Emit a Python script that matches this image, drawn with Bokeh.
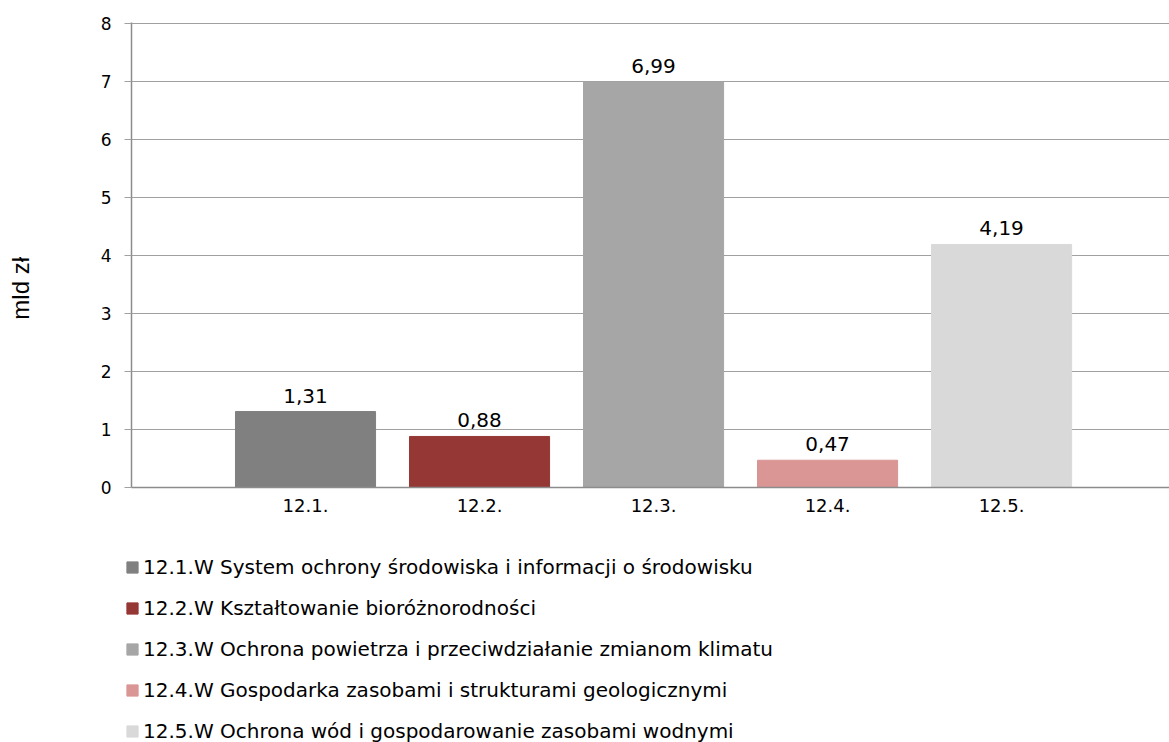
from bokeh.plotting import figure
from bokeh.layouts import column, row
from bokeh.models import ColumnDataSource, FixedTicker, Legend, LegendItem, Range1d
from bokeh.core.properties import value
from bokeh.embed import file_html
from bokeh.resources import INLINE

categories = ["12.1.", "12.2.", "12.3.", "12.4.", "12.5."]
values = [1.31, 0.88, 6.99, 0.47, 4.19]
value_labels = ["1,31", "0,88", "6,99", "0,47", "4,19"]
legend_labels = [
    "12.1.W System ochrony środowiska i informacji o środowisku",
    "12.2.W Kształtowanie bioróżnorodności",
    "12.3.W Ochrona powietrza i przeciwdziałanie zmianom klimatu",
    "12.4.W Gospodarka zasobami i strukturami geologicznymi",
    "12.5.W Ochrona wód i gospodarowanie zasobami wodnymi",
]
colors = ["#808080", "#953735", "#A6A6A6", "#D99694", "#D9D9D9"]
y_ticks = [0, 1, 2, 3, 4, 5, 6, 7, 8]
y_title = "mld zł"

xpos = list(range(1, len(categories) + 1))
src = ColumnDataSource(dict(x=xpos, top=values, color=colors, lab=value_labels))

p = figure(width=1169, height=530, output_backend="svg", toolbar_location=None,
           x_range=Range1d(0, 5.965), y_range=Range1d(0, 8.017),
           min_border_left=131, min_border_right=0, min_border_top=22,
           min_border_bottom=43)
p.outline_line_color = None
p.background_fill_color = "white"
p.border_fill_color = "white"

r = p.vbar(x="x", top="top", width=0.805, bottom=0, color="color", source=src)

p.text(x="x", y="top", text="lab", source=src, text_align="center",
       text_baseline="alphabetic", y_offset=-16,
       text_font=value("DejaVu Sans"), text_font_size="20px", text_color="#000000")

# y axis
p.yaxis.ticker = FixedTicker(ticks=y_ticks)
p.yaxis.major_label_text_font = "DejaVu Sans"
p.yaxis.major_label_text_font_size = "17px"
p.yaxis.major_label_text_color = "#000000"
p.yaxis.major_label_standoff = 13
p.yaxis.major_tick_out = 7
p.yaxis.major_tick_in = 0
p.yaxis.minor_tick_out = 0
p.yaxis.minor_tick_in = 0
p.yaxis.major_tick_line_color = "#A0A0A0"
p.yaxis.axis_line_color = "#8C8C8C"
p.yaxis.axis_line_width = 1.5
p.yaxis.axis_label = y_title + "\u00a0" * 10
p.yaxis.axis_label_text_font = "Liberation Sans"
p.yaxis.axis_label_text_font_size = "24px"
p.yaxis.axis_label_text_font_style = "normal"
p.yaxis.axis_label_text_color = "#000000"
p.yaxis.axis_label_standoff = 64

# x axis
p.xaxis.ticker = FixedTicker(ticks=xpos)
p.xaxis.major_label_overrides = {x: c for x, c in zip(xpos, categories)}
p.xaxis.major_label_text_font = "DejaVu Sans"
p.xaxis.major_label_text_font_size = "18px"
p.xaxis.major_label_text_color = "#000000"
p.xaxis.major_label_standoff = 11
p.xaxis.major_tick_out = 0
p.xaxis.major_tick_in = 0
p.xaxis.minor_tick_out = 0
p.xaxis.minor_tick_in = 0
p.xaxis.axis_line_color = "#8C8C8C"
p.xaxis.axis_line_width = 1.5

p.xgrid.grid_line_color = None
p.ygrid.ticker = FixedTicker(ticks=y_ticks)
p.ygrid.grid_line_color = "#A0A0A0"
p.ygrid.grid_line_width = 1

# legend figure (bars lie outside its ranges, only the legend shows)
pl = figure(width=1169, height=212, output_backend="svg", toolbar_location=None,
            x_range=Range1d(100, 101), y_range=Range1d(100, 101),
            x_axis_location=None, y_axis_location=None,
            min_border_left=0, min_border_right=0, min_border_top=0, min_border_bottom=0)
pl.outline_line_color = None
pl.grid.visible = False
rl = pl.vbar(x="x", top="top", width=0.805, bottom=0, color="color", source=src)

items = [LegendItem(label=legend_labels[i], renderers=[rl], index=i) for i in range(len(categories))]
legend = Legend(items=items, location=(125, -1), orientation="vertical",
                glyph_width=14, glyph_height=14, label_height=14, label_standoff=4,
                spacing=17, padding=0, margin=0,
                border_line_color=None, background_fill_alpha=0,
                label_text_font="DejaVu Sans", label_text_font_size="20px",
                label_text_color="#000000")
pl.add_layout(legend, "center")

open("out.html", "w").write(file_html(column(p, row(pl), spacing=0), INLINE))
